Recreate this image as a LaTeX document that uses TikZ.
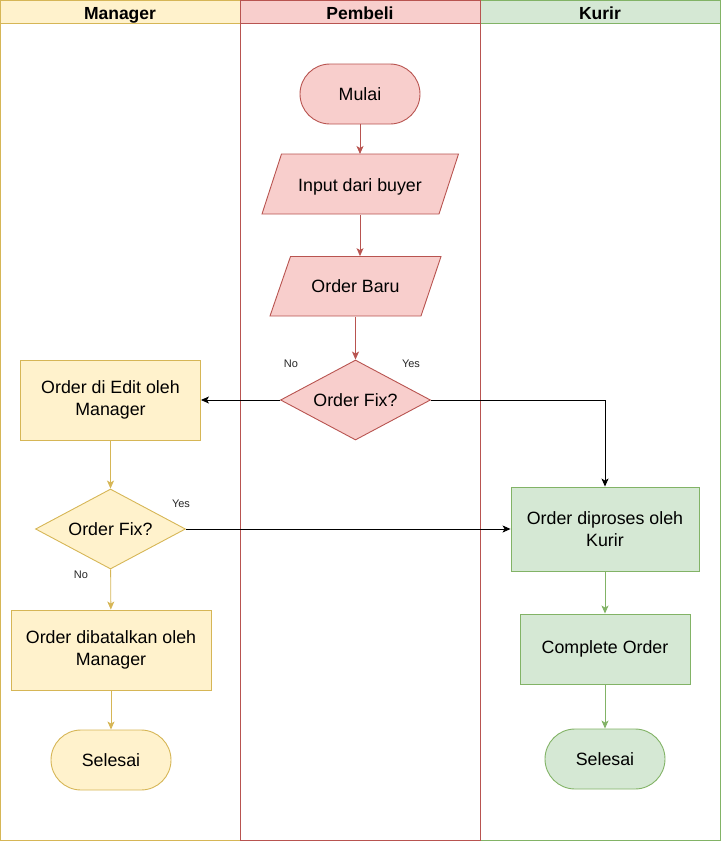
\documentclass[tikz,border=0pt]{standalone}
\usepackage{fontspec}
\setmainfont{Liberation Sans}
\usetikzlibrary{arrows.meta,shapes.geometric,shapes.misc}
\definecolor{manfill}{HTML}{FFF2CC}
\definecolor{manline}{HTML}{D6B656}
\definecolor{buyfill}{HTML}{F8CECC}
\definecolor{buyline}{HTML}{B85450}
\definecolor{kurfill}{HTML}{D5E8D4}
\definecolor{kurline}{HTML}{82B366}
\tikzset{lane/.style={draw=#1,line width=1pt}}
\tikzset{head/.style={font=\fontsize{17.5}{20}\selectfont\bfseries,text depth=0pt}}
\tikzset{box/.style={rectangle,draw,line width=0.9pt,align=center,inner sep=0pt,font=\fontsize{17.8}{22}\selectfont}}
\tikzset{term/.style={rounded rectangle,draw,line width=0.9pt,inner sep=0pt,minimum width=120pt,minimum height=60pt,font=\fontsize{17.8}{22}\selectfont}}
\tikzset{io/.style={rectangle,inner sep=0pt,minimum width=150pt,minimum height=60pt,text depth=0pt,font=\fontsize{17.8}{22}\selectfont}}
\tikzset{ioshape/.style={draw=buyline,fill=buyfill,line width=0.9pt,line join=miter}}
\tikzset{dec/.style={diamond,aspect=1.875,draw,line width=0.9pt,inner sep=0pt,minimum width=150pt,minimum height=80pt,font=\fontsize{17.8}{22}\selectfont}}
\tikzset{lbl/.style={font=\fontsize{11}{13}\selectfont,text=black!85}}
\tikzset{arr/.style={draw=#1,line width=0.9pt,-{Stealth[length=8pt,width=7pt,inset=2pt]}}}

\begin{document}
\begin{tikzpicture}[x=1pt,y=-1pt]
\useasboundingbox (0,0) rectangle (721,841);
% lanes
\filldraw[lane=manline,fill=manfill] (0.5,0.5) rectangle (240,23);
\filldraw[lane=buyline,fill=buyfill] (240,0.5) rectangle (480,23);
\filldraw[lane=kurline,fill=kurfill] (480,0.5) rectangle (720.5,23);
\draw[lane=manline] (0.5,0.5) rectangle (240,840.5);
\draw[lane=kurline] (480,0.5) rectangle (720.5,840.5);
\draw[lane=buyline] (240,0.5) rectangle (480,840.5);
\node[head] (hman) at (120,13.5) {Manager};
\node[head] (hbuy) at (360,13.5) {Pembeli};
\node[head] (hkur) at (600,13.5) {Kurir};

% Pembeli
\node[term,draw=buyline,fill=buyfill] (mulai) at (360,94) {Mulai};
\filldraw[ioshape] (281.5,154) -- (458.5,154) -- (439,214) -- (262,214) -- cycle;
\node[io] (input) at (360,185) {Input dari buyer};
\filldraw[ioshape] (290.5,256.5) -- (441,256.5) -- (421,316) -- (270,316) -- cycle;
\node[io] (baru) at (355.5,286.3) {Order Baru};
\node[dec,draw=buyline,fill=buyfill] (fix1) at (355.5,400) {Order Fix?};
\node[lbl] (no1) at (291,364) {No};
\node[lbl] (yes1) at (411,364) {Yes};

% Manager
\node[box,draw=manline,fill=manfill,minimum width=180pt,minimum height=80pt] (edit) at (110.5,400) {Order di Edit oleh\\Manager};
\node[dec,draw=manline,fill=manfill] (fix2) at (110.5,529) {Order Fix?};
\node[lbl] (yes2) at (181,504) {Yes};
\node[lbl] (no2) at (81,575) {No};
\node[box,draw=manline,fill=manfill,minimum width=200pt,minimum height=80pt] (batal) at (111,650) {Order dibatalkan oleh\\Manager};
\node[term,draw=manline,fill=manfill] (end1) at (111,760) {Selesai};

% Kurir
\node[box,draw=kurline,fill=kurfill,minimum width=188pt,minimum height=84pt] (proses) at (605,529) {Order diproses oleh\\Kurir};
\node[box,draw=kurline,fill=kurfill,minimum width=170pt,minimum height=70pt] (done) at (605,649) {Complete Order};
\node[term,draw=kurline,fill=kurfill] (end2) at (605,759) {Selesai};

% connectors
\draw[arr=buyline] (mulai) -- (input.north |- 0,154);
\draw[arr=buyline] (input.south -| mulai) -- (mulai |- baru.north);
\draw[arr=buyline] (baru) -- (fix1);
\draw[arr=black] (fix1) -- (edit);
\draw[arr=black] (fix1) -| (proses);
\draw[arr=manline] (edit) -- (fix2);
\draw[arr=black] (fix2) -- (proses);
\draw[arr=manline] (fix2) -- (batal);
\draw[arr=manline] (batal) -- (end1);
\draw[arr=kurline] (proses) -- (done);
\draw[arr=kurline] (done) -- (end2);
\end{tikzpicture}
\end{document}
